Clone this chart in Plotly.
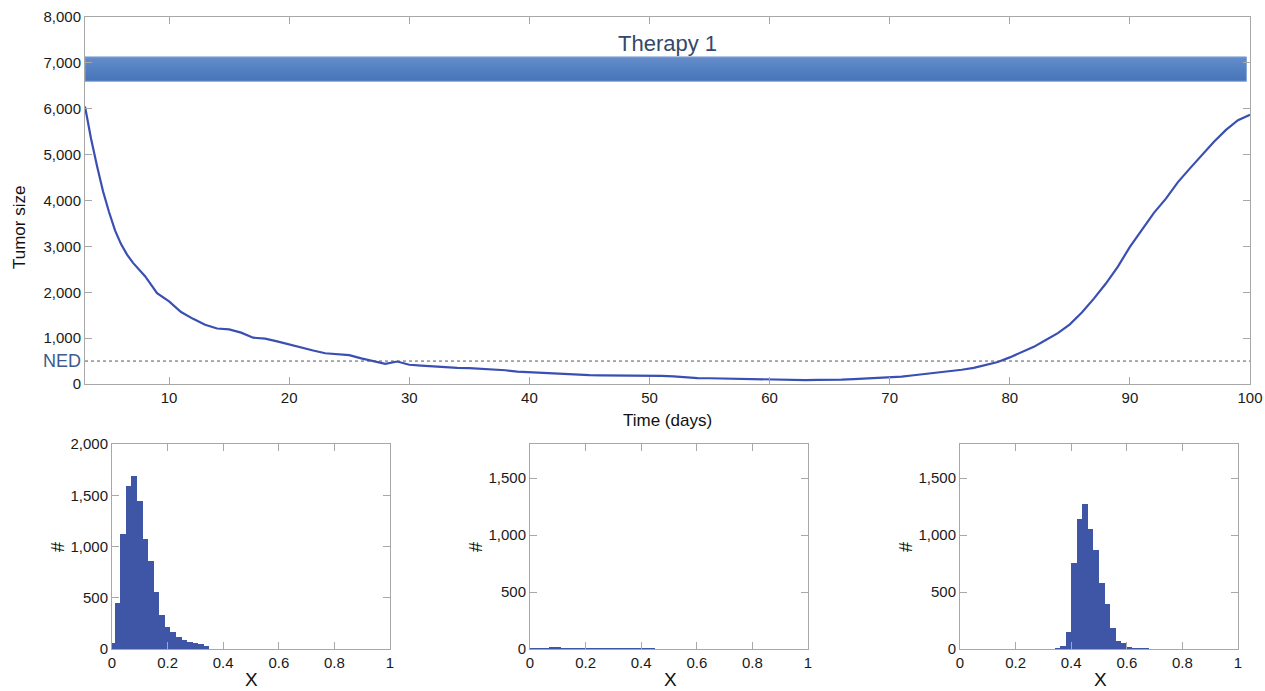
import plotly.graph_objects as go

# ---------------- data ----------------
days = [3, 3.5, 4, 4.5, 5, 5.5, 6, 6.5, 7, 8, 9, 10, 11, 12, 13, 14, 15, 16, 17, 18, 19, 20,
        21, 22, 23, 24, 25, 26, 27, 28, 29, 30, 31, 32, 33, 34, 35, 36, 37, 38, 39, 40,
        41, 42, 43, 44, 45, 46, 47, 48, 49, 50, 51, 52, 53, 54, 55, 56, 57, 58, 59, 60,
        61, 62, 63, 64, 65, 66, 67, 68, 69, 70, 71, 72, 73, 74, 75, 76, 77, 78, 79, 80,
        81, 82, 83, 84, 85, 86, 87, 88, 89, 90, 91, 92, 93, 94, 95, 96, 97, 98, 99, 100]
tumor_size = [6050, 5350, 4750, 4200, 3750, 3350, 3050, 2820, 2640, 2350, 1980, 1800,
              1570, 1420, 1290, 1210, 1190, 1120, 1010, 990, 930, 860,
              800, 730, 670, 650, 630, 560, 500, 440, 490, 420,
              400, 380, 370, 350, 345, 330, 320, 300, 270, 255,
              240, 230, 215, 200, 195, 190, 190, 185, 180, 180,
              175, 165, 140, 130, 125, 120, 115, 105, 100, 90,
              85, 88, 85, 88, 85, 95, 105, 115, 130, 140,
              160, 190, 220, 245, 270, 310, 350, 420, 480, 580,
              700, 810, 960, 1110, 1300, 1560, 1860, 2190, 2560, 2990,
              3360, 3730, 4040, 4400, 4700, 5000, 5280, 5540, 5750, 5870]

ned_level = 500
therapy_label = "Therapy 1"
therapy_start = 3
therapy_end = 99.7
therapy_low = 6600
therapy_high = 7130

hist1_x = [0.00, 0.02, 0.04, 0.06, 0.08, 0.10, 0.12, 0.14, 0.16, 0.18,
           0.20, 0.22, 0.24, 0.26, 0.28, 0.30, 0.32, 0.34]
hist1_y = [55, 452, 1119, 1593, 1691, 1444, 1073, 862, 559, 332,
           218, 163, 120, 88, 68, 55, 49, 30]

hist2_x = [0.00, 0.02, 0.04, 0.06, 0.08, 0.10, 0.12, 0.14, 0.16, 0.18,
           0.20, 0.22, 0.24, 0.26, 0.28, 0.30, 0.32, 0.34, 0.36, 0.38,
           0.40, 0.42, 0.44]
hist2_y = [2, 2, 3, 6, 15, 12, 7, 6, 5, 4,
           3, 2, 1, 3, 1, 1, 2, 6, 5, 1,
           3, 3, 1]

hist3_x = [0.35, 0.37, 0.39, 0.41, 0.43, 0.45, 0.47, 0.49, 0.51, 0.53,
           0.55, 0.57, 0.59, 0.61, 0.63, 0.65, 0.67]
hist3_y = [5, 30, 150, 757, 1144, 1270, 1050, 865, 580, 395,
           185, 72, 50, 15, 8, 3, 5]

top_yticks = [0, 1000, 2000, 3000, 4000, 5000, 6000, 7000, 8000]
top_xticks = [10, 20, 30, 40, 50, 60, 70, 80, 90, 100]
hist_xticks = [0, 0.2, 0.4, 0.6, 0.8, 1]
hist_xticklabels = ["0", "0.2", "0.4", "0.6", "0.8", "1"]

# ---------------- style ----------------
W, H = 1265, 691
FONT = "Liberation Sans, Arial, Helvetica, sans-serif"
LINE_BLUE = "#3a4fb2"
BAR_BLUE = "#3f55a6"
AXIS_GRAY = "#a8a8a8"
TICK_FONT = dict(family=FONT, size=15, color="#1a1a1a")


def px_x(p):
    return p / W


def px_y(p):
    return 1 - p / H


fig = go.Figure()

# therapy bar (gradient)
fig.add_trace(go.Scatter(
    x=[therapy_start, therapy_end, therapy_end, therapy_start, therapy_start],
    y=[therapy_low, therapy_low, therapy_high, therapy_high, therapy_low],
    fill="toself", mode="lines",
    line=dict(color="#7fa3d8", width=1),
    fillgradient=dict(type="vertical",
                      colorscale=[[0, "#4674b8"], [0.6, "#5683c3"], [1, "#678dca"]]),
    xaxis="x", yaxis="y", showlegend=False, hoverinfo="skip"))

# tumor curve
fig.add_trace(go.Scatter(x=days, y=tumor_size, mode="lines",
                         line=dict(color=LINE_BLUE, width=2.2),
                         xaxis="x", yaxis="y", showlegend=False))

# histograms
for i, (hx, hy) in enumerate([(hist1_x, hist1_y), (hist2_x, hist2_y), (hist3_x, hist3_y)], start=2):
    fig.add_trace(go.Bar(x=hx, y=hy, width=0.02,
                         marker=dict(color=BAR_BLUE, line=dict(width=0)),
                         xaxis=f"x{i}", yaxis=f"y{i}", showlegend=False))

axis_common = dict(showline=True, linecolor=AXIS_GRAY, linewidth=1, mirror="ticks",
                   ticks="inside", tickcolor=AXIS_GRAY, ticklen=7, tickwidth=1,
                   showgrid=False, zeroline=False, tickfont=TICK_FONT, automargin=False)

layout = dict(
    width=W, height=H,
    margin=dict(l=0, r=0, t=0, b=0),
    paper_bgcolor="white", plot_bgcolor="white",
    bargap=0,
    font=dict(family=FONT),
    xaxis=dict(domain=[px_x(85), px_x(1250)], range=[3, 100], tickvals=top_xticks,
               anchor="y", **axis_common),
    yaxis=dict(domain=[px_y(384), px_y(17)], range=[0, 8000], tickvals=top_yticks,
               tickformat=",d", anchor="x", **axis_common),
)

panels = [(112, 390, [0, 2000], [0, 500, 1000, 1500, 2000]),
          (530, 808, [0, 1800], [0, 500, 1000, 1500]),
          (960, 1238, [0, 1800], [0, 500, 1000, 1500])]
for i, (l, r, yr, yt) in enumerate(panels, start=2):
    layout[f"xaxis{i}"] = dict(domain=[px_x(l), px_x(r)], range=[0, 1],
                               tickvals=hist_xticks, ticktext=hist_xticklabels,
                               anchor=f"y{i}", **axis_common)
    layout[f"yaxis{i}"] = dict(domain=[px_y(649), px_y(444)], range=yr, tickvals=yt,
                               tickformat=",d", anchor=f"x{i}", **axis_common)

fig.update_layout(**layout)

# NED dotted line
fig.add_shape(type="line", xref="x", yref="y", x0=3, x1=100, y0=ned_level, y1=ned_level,
              line=dict(color="#555555", width=1, dash="dot"))

annotations = [
    dict(text=therapy_label, x=51.5, y=7420, xref="x", yref="y", showarrow=False,
         xanchor="center", yanchor="middle",
         font=dict(family=FONT, size=22, color="#34486b")),
    dict(text="NED", x=px_x(83), y=ned_level, xref="paper", yref="y", xanchor="right",
         yanchor="middle", showarrow=False, font=dict(family=FONT, size=18, color="#3d5a8e")),
    dict(text="Tumor size", x=px_x(19), y=px_y(228), xref="paper", yref="paper",
         xanchor="center", yanchor="middle",
         textangle=-90, showarrow=False, font=dict(family=FONT, size=17, color="#111")),
    dict(text="Time (days)", x=px_x(668), y=px_y(420), xref="paper", yref="paper",
         xanchor="center", yanchor="middle",
         showarrow=False, font=dict(family=FONT, size=17, color="#111")),
]
for l, r, _, _ in panels:
    annotations.append(dict(text="X", x=px_x((l + r) / 2 + 1), y=px_y(679), xref="paper", yref="paper",
                            xanchor="center", yanchor="middle",
                            showarrow=False, font=dict(family=FONT, size=19, color="#111")))
    annotations.append(dict(text="#", x=px_x(l - 54), y=px_y(547), xref="paper", yref="paper",
                            xanchor="center", yanchor="middle",
                            textangle=-90, showarrow=False,
                            font=dict(family=FONT, size=18, color="#111")))
fig.update_layout(annotations=annotations)

fig.write_html("out.html")
